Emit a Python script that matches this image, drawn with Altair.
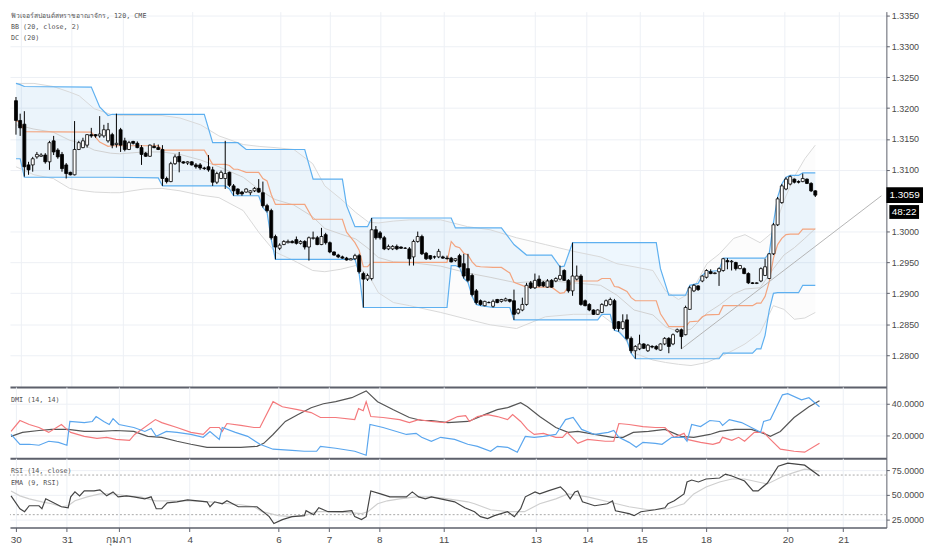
import json
import altair as alt
import pandas as pd

# ---------------- candles (2h bars) ----------------
opens = [
1.3212,1.3180,1.3174,1.3108,1.3108,1.3121,1.3122,1.3124,1.3113,1.3147,
1.3132,1.3125,1.3108,1.3096,1.3092,1.3133,1.3136,1.3140,1.3157,1.3157,
1.3155,1.3155,1.3147,1.3157,1.3141,1.3165,1.3147,1.3133,1.3146,1.3143,
1.3136,1.3127,1.3122,1.3138,1.3136,1.3133,1.3086,1.3081,1.3110,1.3122,
1.3113,1.3111,1.3113,1.3108,1.3108,1.3103,1.3105,1.3100,1.3080,1.3086,
1.3086,1.3096,1.3074,1.3069,1.3064,1.3064,1.3063,1.3066,1.3070,1.3063,
1.3042,1.3034,1.2992,1.2973,1.2979,1.2982,1.2984,1.2987,1.2981,1.2984,
1.2975,1.2989,1.2990,1.2979,1.2995,1.2982,1.2967,1.2962,1.2959,1.2957,
1.2954,1.2956,1.2961,1.2932,1.2923,1.2924,1.3003,1.2998,1.2990,1.2972,
1.2972,1.2976,1.2975,1.2973,1.2972,1.2959,1.2984,1.2992,1.2965,1.2961,
1.2959,1.2959,1.2959,1.2957,1.2957,1.2953,1.2961,1.2948,1.2940,1.2929,
1.2904,1.2888,1.2880,1.2885,1.2879,1.2890,1.2887,1.2888,1.2890,1.2888,
1.2868,1.2873,1.2882,1.2917,1.2909,1.2923,1.2918,1.2910,1.2921,1.2920,
1.2923,1.2937,1.2921,1.2904,1.2923,1.2928,1.2888,1.2882,1.2873,1.2866,
1.2869,1.2880,1.2882,1.2888,1.2854,1.2843,1.2857,1.2827,1.2807,1.2810,
1.2818,1.2807,1.2814,1.2814,1.2808,1.2818,1.2827,1.2818,1.2838,1.2841,
1.2833,1.2874,1.2904,1.2912,1.2920,1.2926,1.2935,1.2932,1.2935,1.2937,
1.2953,1.2951,1.2950,1.2940,1.2940,1.2932,1.2917,1.2916,1.2920,1.2929,
1.2924,1.2964,1.3011,1.3047,1.3069,1.3077,1.3085,1.3081,1.3081,1.3085,
1.3078,1.3066]
highs = [
1.3218,1.3191,1.3195,1.3113,1.3121,1.3129,1.3127,1.3127,1.3147,1.3155,
1.3135,1.3129,1.3111,1.3097,1.3179,1.3147,1.3152,1.3158,1.3168,1.3158,
1.3187,1.3173,1.3176,1.3160,1.3191,1.3168,1.3152,1.3147,1.3147,1.3146,
1.3140,1.3129,1.3141,1.3143,1.3141,1.3140,1.3089,1.3113,1.3125,1.3129,
1.3114,1.3114,1.3114,1.3111,1.3111,1.3105,1.3124,1.3105,1.3097,1.3099,
1.3147,1.3097,1.3077,1.3070,1.3066,1.3070,1.3067,1.3072,1.3085,1.3081,
1.3045,1.3037,1.2995,1.2981,1.2986,1.2987,1.2986,1.2992,1.2986,1.2986,
1.2992,1.3000,1.2993,1.3006,1.2998,1.2984,1.2968,1.2964,1.2961,1.2959,
1.2957,1.2964,1.2964,1.2935,1.2932,1.3022,1.3009,1.3001,1.2993,1.2979,
1.2978,1.2979,1.2976,1.2975,1.2975,1.2987,1.3000,1.2995,1.2967,1.2962,
1.2961,1.2972,1.2961,1.2961,1.2959,1.2957,1.2964,1.2964,1.2964,1.2932,
1.2907,1.2890,1.2888,1.2887,1.2890,1.2891,1.2891,1.2893,1.2891,1.2906,
1.2876,1.2893,1.2917,1.2920,1.2932,1.2929,1.2920,1.2923,1.2923,1.2926,
1.2945,1.2939,1.2923,1.2982,1.2945,1.2931,1.2890,1.2884,1.2874,1.2874,
1.2884,1.2890,1.2893,1.2891,1.2855,1.2866,1.2866,1.2830,1.2816,1.2833,
1.2819,1.2818,1.2816,1.2816,1.2819,1.2829,1.2829,1.2835,1.2843,1.2843,
1.2880,1.2912,1.2915,1.2913,1.2929,1.2939,1.2939,1.2934,1.2942,1.2957,
1.2957,1.2954,1.2951,1.2946,1.2942,1.2934,1.2918,1.2918,1.2942,1.2956,
1.2965,1.3014,1.3056,1.3077,1.3088,1.3091,1.3086,1.3083,1.3094,1.3086,
1.3080,1.3067]
lows = [
1.3157,1.3155,1.3089,1.3092,1.3097,1.3118,1.3121,1.3110,1.3100,1.3124,
1.3118,1.3097,1.3086,1.3091,1.3091,1.3132,1.3135,1.3136,1.3152,1.3152,
1.3152,1.3152,1.3144,1.3135,1.3136,1.3129,1.3130,1.3132,1.3141,1.3135,
1.3108,1.3121,1.3121,1.3135,1.3132,1.3074,1.3078,1.3080,1.3108,1.3096,
1.3110,1.3108,1.3107,1.3102,1.3100,1.3100,1.3097,1.3074,1.3077,1.3085,
1.3069,1.3072,1.3058,1.3059,1.3058,1.3063,1.3059,1.3064,1.3063,1.3039,
1.3031,1.2987,1.2955,1.2970,1.2978,1.2981,1.2981,1.2979,1.2979,1.2971,
1.2953,1.2987,1.2978,1.2978,1.2979,1.2965,1.2961,1.2957,1.2956,1.2953,
1.2954,1.2954,1.2932,1.2877,1.2920,1.2921,1.2987,1.2987,1.2970,1.2970,
1.2970,1.2970,1.2972,1.2972,1.2945,1.2945,1.2982,1.2962,1.2954,1.2954,
1.2956,1.2957,1.2956,1.2955,1.2950,1.2951,1.2942,1.2924,1.2918,1.2895,
1.2882,1.2880,1.2879,1.2884,1.2877,1.2884,1.2885,1.2887,1.2885,1.2857,
1.2866,1.2871,1.2880,1.2907,1.2907,1.2910,1.2910,1.2909,1.2909,1.2918,
1.2921,1.2920,1.2901,1.2896,1.2921,1.2880,1.2879,1.2871,1.2865,1.2865,
1.2868,1.2879,1.2880,1.2840,1.2838,1.2841,1.2824,1.2803,1.2794,1.2808,
1.2810,1.2805,1.2811,1.2808,1.2807,1.2816,1.2803,1.2816,1.2836,1.2810,
1.2832,1.2873,1.2902,1.2904,1.2918,1.2924,1.2931,1.2931,1.2912,1.2935,
1.2939,1.2937,1.2937,1.2939,1.2931,1.2915,1.2915,1.2915,1.2918,1.2928,
1.2923,1.2962,1.3009,1.3045,1.3067,1.3075,1.3078,1.3078,1.3080,1.3077,
1.3064,1.3056]
closes = [
1.3180,1.3168,1.3105,1.3100,1.3118,1.3125,1.3124,1.3113,1.3144,1.3129,
1.3121,1.3102,1.3094,1.3092,1.3133,1.3144,1.3147,1.3157,1.3155,1.3155,
1.3158,1.3165,1.3165,1.3140,1.3143,1.3140,1.3133,1.3144,1.3143,1.3136,
1.3125,1.3122,1.3140,1.3136,1.3133,1.3086,1.3081,1.3110,1.3121,1.3113,
1.3111,1.3113,1.3108,1.3105,1.3103,1.3102,1.3100,1.3080,1.3094,1.3096,
1.3094,1.3075,1.3066,1.3061,1.3061,1.3069,1.3066,1.3070,1.3064,1.3042,
1.3034,1.2990,1.2975,1.2978,1.2984,1.2984,1.2982,1.2981,1.2984,1.2975,
1.2990,1.2990,1.2979,1.2992,1.2982,1.2967,1.2962,1.2959,1.2957,1.2954,
1.2956,1.2961,1.2935,1.2923,1.2929,1.3003,1.2990,1.2990,1.2972,1.2976,
1.2976,1.2972,1.2973,1.2973,1.2956,1.2984,1.2992,1.2964,1.2956,1.2956,
1.2959,1.2968,1.2957,1.2956,1.2951,1.2956,1.2943,1.2928,1.2921,1.2898,
1.2885,1.2882,1.2887,1.2885,1.2887,1.2885,1.2890,1.2891,1.2887,1.2866,
1.2874,1.2882,1.2913,1.2909,1.2921,1.2912,1.2912,1.2920,1.2910,1.2924,
1.2929,1.2921,1.2904,1.2928,1.2928,1.2882,1.2880,1.2873,1.2866,1.2873,
1.2882,1.2888,1.2890,1.2843,1.2843,1.2854,1.2827,1.2807,1.2814,1.2818,
1.2811,1.2816,1.2813,1.2810,1.2818,1.2827,1.2814,1.2833,1.2841,1.2830,
1.2877,1.2909,1.2913,1.2906,1.2928,1.2937,1.2932,1.2933,1.2940,1.2956,
1.2951,1.2952,1.2940,1.2945,1.2932,1.2917,1.2916,1.2917,1.2940,1.2943,
1.2964,1.3011,1.3053,1.3074,1.3085,1.3089,1.3080,1.3080,1.3086,1.3078,
1.3066,1.3059]

# ---------------- Donchian channel (20) ----------------
dc_idx = [0,1,2,18,20,22,23,34,35,45,
          47,50,51,52,53,55,58,59,60,61,
          62,69,71,78,79,81,82,83,84,85,
          103,104,105,106,107,108,109,110,111,114,
          116,118,119,122,128,130,131,133,139,140,
          142,143,144,146,147,148,153,154,156,160,
          161,163,164,165,168,169,176,177,178,179,
          180,181,182,183,184,185,187,188,191]
dc_upper = [1.3240,1.3238,1.3235,1.3234,1.3202,1.3188,1.3190,1.3190,1.3190,1.3190,
            1.3144,1.3144,1.3144,1.3144,1.3144,1.3133,1.3133,1.3133,1.3133,1.3133,
            1.3133,1.3133,1.3085,1.3085,1.3042,1.3008,1.3008,1.3008,1.3008,1.3022,
            1.3022,1.3022,1.3006,1.3006,1.3006,1.3006,1.3006,1.3006,1.3006,1.3006,
            1.3006,1.2988,1.2979,1.2962,1.2962,1.2943,1.2944,1.2982,1.2982,1.2982,
            1.2982,1.2982,1.2982,1.2982,1.2982,1.2982,1.2982,1.2940,1.2897,1.2897,
            1.2913,1.2916,1.2929,1.2935,1.2937,1.2957,1.2957,1.2957,1.2957,1.2957,
            1.2965,1.3014,1.3056,1.3077,1.3088,1.3091,1.3091,1.3095,1.3095]
dc_mid = [1.3179,1.3178,1.3162,1.3161,1.3145,1.3138,1.3139,1.3139,1.3132,1.3132,
          1.3109,1.3109,1.3107,1.3101,1.3101,1.3096,1.3096,1.3086,1.3082,1.3060,
          1.3044,1.3044,1.3020,1.3020,1.2999,1.2982,1.2970,1.2943,1.2943,1.2950,
          1.2950,1.2984,1.2976,1.2974,1.2965,1.2962,1.2951,1.2944,1.2943,1.2942,
          1.2942,1.2933,1.2918,1.2910,1.2910,1.2900,1.2901,1.2920,1.2920,1.2924,
          1.2924,1.2911,1.2910,1.2903,1.2893,1.2888,1.2888,1.2867,1.2846,1.2846,
          1.2854,1.2855,1.2862,1.2865,1.2866,1.2880,1.2880,1.2884,1.2884,1.2895,
          1.2919,1.2957,1.2979,1.2989,1.2995,1.2996,1.2996,1.3004,1.3004]
dc_lower = [1.3118,1.3118,1.3088,1.3088,1.3088,1.3088,1.3088,1.3087,1.3074,1.3074,
            1.3074,1.3074,1.3069,1.3058,1.3058,1.3058,1.3058,1.3039,1.3031,1.2987,
            1.2955,1.2955,1.2955,1.2955,1.2955,1.2955,1.2932,1.2877,1.2877,1.2877,
            1.2877,1.2945,1.2945,1.2942,1.2924,1.2918,1.2895,1.2882,1.2880,1.2877,
            1.2877,1.2877,1.2857,1.2857,1.2857,1.2857,1.2857,1.2857,1.2857,1.2866,
            1.2866,1.2840,1.2838,1.2824,1.2803,1.2794,1.2794,1.2794,1.2794,1.2794,
            1.2794,1.2794,1.2794,1.2794,1.2794,1.2803,1.2803,1.2810,1.2810,1.2832,
            1.2873,1.2900,1.2901,1.2901,1.2901,1.2901,1.2901,1.2913,1.2913]

# ---------------- Bollinger bands (20, close, 2) ----------------
bb_idx = [0,4.3,8.9,12.8,15.1,18.7,22.6,24.8,30.6,34.9,
          39.2,44.1,48.5,54.3,58.1,61.9,66.4,70.9,73.8,77.6,
          81.2,84.3,86.6,90.2,94.1,101.5,107.9,113.3,119.6,126.5,
          133.2,139.7,143.6,147.7,152.2,155.2,158.3,161.3,165.1,168.1,
          171.5,174.2,177.8,181,183.5,186,188.5,191]
bb_upper = [1.3240,1.3240,1.3235,1.3226,1.3220,1.3199,1.3190,1.3188,1.3188,1.3188,
            1.3184,1.3173,1.3155,1.3141,1.3138,1.3136,1.3133,1.3110,1.3074,1.3053,
            1.3031,1.3015,1.3014,1.3017,1.3019,1.3019,1.3008,1.3003,1.2990,1.2979,
            1.2968,1.2959,1.2948,1.2943,1.2937,1.2904,1.2890,1.2901,1.2948,1.2964,
            1.2989,1.2995,1.2982,1.3000,1.3050,1.3089,1.3118,1.3140]
bb_basis = [1.3173,1.3166,1.3161,1.3148,1.3144,1.3132,1.3127,1.3126,1.3129,1.3129,
            1.3125,1.3116,1.3105,1.3088,1.3068,1.3052,1.3043,1.3024,1.3005,1.2996,
            1.2988,1.2972,1.2958,1.2951,1.2950,1.2944,1.2933,1.2926,1.2917,1.2921,
            1.2917,1.2913,1.2897,1.2873,1.2865,1.2846,1.2838,1.2842,1.2868,1.2881,
            1.2899,1.2907,1.2909,1.2940,1.2962,1.2974,1.2989,1.3005]
bb_lower = [1.3105,1.3092,1.3086,1.3070,1.3067,1.3064,1.3063,1.3063,1.3069,1.3070,
            1.3066,1.3059,1.3055,1.3034,1.2998,1.2967,1.2953,1.2937,1.2935,1.2939,
            1.2945,1.2929,1.2901,1.2885,1.2880,1.2869,1.2858,1.2849,1.2843,1.2862,
            1.2866,1.2866,1.2846,1.2803,1.2792,1.2788,1.2785,1.2783,1.2788,1.2797,
            1.2808,1.2818,1.2836,1.2880,1.2874,1.2858,1.2860,1.2869]

# trend line drawn on the price pane
trend_idx = [159.0, 206.8]
trend_val = [1.2810, 1.3058]

# ---------------- DMI (14, 14) ----------------
pdi_idx = [0,2.1,4.3,6.6,8.9,11.2,13.2,13.9,17.3,19.2,
           20.1,21.9,23.2,24.1,25.5,29.0,31.6,33.1,34.3,36.7,
           39.2,42.5,45.4,47.0,49.2,49.9,53.0,55.9,58.8,61.9,
           66.4,69.3,72.2,73.1,76.7,81.2,83.9,84.8,87.9,93.4,
           95.7,97.0,99.3,101.5,104.8,107.9,110.2,113.3,114.9,117.3,
           119.6,121.5,123.6,125.8,128.7,131.0,132.8,134.8,137.9,141.1,
           142.4,143.6,146.0,147.7,149.3,152.2,153.8,156.1,159.0,159.7,
           160.8,162.9,165.1,167.4,168.1,169.7,172.6,174.9,177.1,177.8,
           179.4,182.25,183.5,186.75,188.5,191.0]
pdi_val = [20.6,14.4,14.4,13.8,16.3,15.6,13.8,28.8,28.1,28.8,
           31.9,28.8,26.9,30.6,26.9,25.0,22.5,24.4,19.4,22.5,
           21.9,20.6,18.8,22.5,17.5,25.0,21.9,19.4,14.4,11.3,
           10.6,10.0,10.0,13.1,11.9,10.0,7.5,26.9,25.0,20.6,
           21.3,18.8,16.3,18.8,17.5,14.4,13.1,10.0,13.1,12.5,
           9.4,19.4,18.8,19.4,20.6,30.0,31.3,23.8,20.6,21.9,
           23.1,18.8,15.6,12.5,15.6,15.0,14.4,18.8,18.8,16.3,
           26.9,25.6,29.4,28.8,26.3,30.0,28.1,25.0,21.9,28.8,
           30.0,45.6,46.3,42.5,43.8,38.1]
mdi_idx = [0,2.1,4.3,6.6,8.9,11.9,13.2,14.1,17.3,20.3,
           22.6,24.8,28.0,29.2,34.1,35.6,39.2,42.5,45.4,47.0,
           49.2,49.9,51.0,54.3,57.4,58.8,61.9,64.1,67.7,70.9,
           73.1,76.7,81.2,82.1,83.2,83.9,85.0,87.9,91.8,94.1,
           96.3,99.3,102.5,105.5,107.4,108.3,110.2,112.6,114.9,117.3,
           118.5,120.4,122.0,123.6,125.8,128.7,130.3,131.4,133.9,136.2,
           140.4,142.4,143.6,146.0,149.3,152.2,154.5,156.7,159.0,159.7,
           162.9,165.8,167.4,168.1,170.3,171.9,173.3,175.6,177.8,179.4,
           181.75,185.0,187.5,191.0]
mdi_val = [22.5,29.4,26.9,25.0,21.9,26.9,23.8,21.9,19.4,18.1,
           18.8,17.5,16.9,20.6,30.0,28.1,25.0,21.9,20.6,25.0,
           25.0,22.5,27.5,26.3,25.0,25.0,41.3,38.1,36.3,34.4,
           31.3,31.3,30.0,36.9,35.6,41.3,31.9,31.3,30.0,28.1,
           30.0,28.8,28.1,31.9,32.5,28.8,31.9,33.1,31.9,30.0,
           33.1,28.8,23.8,20.6,21.3,18.8,18.8,21.9,15.0,17.5,
           16.3,16.3,27.5,26.9,25.6,25.0,25.0,18.8,21.3,17.5,
           15.6,14.4,15.6,18.8,16.9,18.8,16.3,21.9,21.9,17.5,
           11.3,10.0,9.4,15.0]
adx_idx = [0,2.7,6.6,9.6,13.5,17.3,21.0,24.8,29.0,32.3,
           35.6,39.2,42.5,46.3,49.9,54.3,58.1,59.7,61.9,64.8,
           67.7,70.9,73.8,76.7,80.5,83.9,86.6,90.2,94.1,97.0,
           99.3,103.2,107.9,108.6,111.9,114.9,117.3,120.4,122.0,124.9,
           128.7,131.6,133.9,137.9,142.1,144.6,147.0,150.6,154.5,158.3,
           161.3,165.1,167.4,171.0,174.9,177.8,179.4,181.75,185.0,188.5,
           191.0]
adx_val = [19.4,21.9,23.1,23.8,23.8,22.5,22.5,23.1,22.5,19.4,
           18.8,16.3,14.4,12.5,12.5,12.5,13.1,15.0,20.6,28.8,
           33.1,37.5,40.0,41.3,43.8,48.1,41.3,36.3,31.3,29.4,
           29.4,28.1,28.8,29.4,33.1,36.3,37.5,40.6,38.1,31.9,
           25.0,21.9,22.5,20.6,18.8,18.8,21.9,22.5,23.8,19.4,
           18.8,20.6,22.5,23.8,23.8,21.3,19.4,22.5,31.3,38.1,
           41.9]

# ---------------- RSI (14, close) and EMA (9, RSI) ----------------
rsi_idx = [0,2.1,3.2,4.3,6.6,7.3,8.2,9.6,11.9,13.5,
           14.1,15.1,16.2,17.3,19.6,21.0,22.6,24.1,25.3,27.3,
           29.0,31.6,33.1,34.3,35.6,36.9,39.2,41.7,44.1,46.3,
           47.0,48.1,49.9,51.0,53.7,55.9,58.1,61.0,62.1,64.1,
           66.4,69.3,69.7,71.5,72.7,74.9,78.3,80.5,81.2,82.8,
           83.9,85.0,87.3,89.5,93.4,94.8,96.3,97.9,99.3,101.5,
           104.8,107.2,109.5,110.9,112.6,114.2,117.3,118.9,120.4,121.5,
           123.8,124.9,126.9,129.8,131.0,132.1,133.2,133.9,135.0,137.9,
           140.9,142.1,142.8,146.0,147.2,148.8,152.2,154.5,155.2,156.7,
           159.0,159.7,160.8,162.4,164.2,167.4,168.8,170.3,173.3,175.3,
           176.5,178.7,181.25,183.5,187.5,191.0]
rsi_val = [49,36,33,39,39,36,46,43,38,37,
           48,53,49,54,54,55,49,53,48,49,
           48,46,48,36,36,42,43,45,44,43,
           38,43,41,44,38,38,38,28,21,25,
           28,29,34,30,37,33,33,34,28,25,
           28,54,51,48,48,53,48,46,48,46,
           43,37,33,28,26,29,33,28,36,48,
           53,51,54,58,53,46,53,54,43,39,
           41,44,34,31,29,33,35,37,41,44,
           51,63,65,63,66,67,71,69,64,54,
           54,62,79,82,80,69]
ema_idx = [0,2.1,4.3,7.3,9.6,11.9,13.5,15.1,18.0,21.0,
           24.1,27.3,30.6,34.1,37.4,42.5,47.0,51.4,54.3,57.4,
           59.3,63.2,66.4,69.3,72.2,75.3,79.8,82.8,84.3,86.6,
           88.9,91.8,95.7,99.3,103.2,107.9,109.5,113.3,117.3,121.3,
           124.9,128.7,131.6,136.2,141.1,146.0,150.6,155.2,159.0,161.3,
           164.2,167.4,170.3,173.3,176.5,178.7,182.5,186.0,187.5,191.0]
ema_val = [54,49,46,43,41,38,39,44,48,51,
           51,49,48,44,44,44,43,41,40,38,
           33,29,28,29,33,33,32,31,33,41,
           44,46,48,48,46,43,41,35,33,33,
           41,46,51,48,43,38,35,36,41,51,
           58,63,66,66,63,61,69,74,76,74]
rsi_levels = [70, 30]

# ---------------- axes text ----------------
day_ticks = [1.1, 13.2, 25.5, 42.2, 63.2, 75.1, 87.0, 102.2, 124.0, 136.2, 149.0, 164.2, 183.5, 196.6]
day_labels = ["30", "31", "กุมภา", "4", "6", "7", "8", "11", "13", "14", "15", "18", "20", "21"]
price_ticks = [1.28, 1.285, 1.29, 1.295, 1.30, 1.31, 1.315, 1.32, 1.325, 1.33, 1.335]
dmi_ticks = [20, 40]
rsi_ticks = [25, 50, 75]
last_price = 1.3059
last_price_text = "1.3059"
countdown_text = "48:22"
title_lines = ["ฟิวเจอร์สปอนด์สหราชอาณาจักร, 120, CME", "BB (20, close, 2)", "DC (20)"]
dmi_title = "DMI (14, 14)"
rsi_titles = ["RSI (14, close)", "EMA (9, RSI)"]

# ---------------- layout / style ----------------
W = 885
H_MAIN, H_DMI, H_RSI = 379, 72, 70
X_DOMAIN = [-0.25, 206.8]
P_DOMAIN = [1.27484, 1.33563]
DMI_DOMAIN = [5.6, 50.6]
RSI_DOMAIN = [17, 87]
GRID = "#edf0f5"
AXIS_LINE = "#5d606b"
LABEL_COLOR = "#4a4a4a"
FONT = "Liberation Sans"
MONO = "DejaVu Sans Mono"
DC_BLUE = "#5eb0f0"
DC_ORANGE = "#f3a47f"
BB_GRAY = "#d9d9d9"

label_expr = "%s[indexof(%s, datum.value)]" % (
    json.dumps(day_labels, ensure_ascii=False), json.dumps(day_ticks))


def x_enc(show_labels):
    axis = alt.Axis(values=day_ticks, grid=True, gridColor=GRID, gridWidth=1,
                    domain=True, domainColor=AXIS_LINE,
                    domainWidth=1.5 if show_labels else 2,
                    ticks=show_labels, tickColor=AXIS_LINE, tickSize=4,
                    labels=show_labels, labelExpr=label_expr, labelFont=FONT,
                    labelFontSize=10, labelColor=LABEL_COLOR, labelOverlap=False,
                    labelFlush=False, labelPadding=3, title=None)
    return alt.X("i:Q", scale=alt.Scale(domain=X_DOMAIN, nice=False, zero=False), axis=axis)


def y_enc(field, domain, values):
    axis = alt.Axis(orient="right", values=values, format=".4f", grid=True, gridColor=GRID,
                    domain=True, domainColor=AXIS_LINE, domainWidth=1, ticks=True,
                    tickSize=3, tickColor=AXIS_LINE, labelFont=FONT, labelFontSize=9,
                    labelColor=LABEL_COLOR, labelPadding=2, title=None)
    return alt.Y(field + ":Q", scale=alt.Scale(domain=domain, nice=False, zero=False), axis=axis)


def legend_text(text, ypix):
    return alt.Chart(pd.DataFrame({"t": [text]})).mark_text(
        align="left", baseline="middle", font=MONO, fontSize=6.8, color="#555555"
    ).encode(x=alt.value(1), y=alt.value(ypix), text="t:N")


# ---------------- price pane ----------------
cand = pd.DataFrame({"i": list(range(len(closes))), "open": opens, "high": highs,
                     "low": lows, "close": closes})
cand["dir"] = ["up" if c >= o else "down" for o, c in zip(opens, closes)]
dc = pd.DataFrame({"i": dc_idx, "u": dc_upper, "m": dc_mid, "l": dc_lower})
bb = pd.DataFrame({"i": bb_idx, "u": bb_upper, "m": bb_basis, "l": bb_lower})
trend = pd.DataFrame({"i": trend_idx, "v": trend_val})
lp = pd.DataFrame({"p": [last_price], "t": [last_price_text], "c": [countdown_text]})

XM = x_enc(False)


def YP(f):
    return y_enc(f, P_DOMAIN, price_ticks)


bb_fill = alt.Chart(bb).mark_area(color="#8c8c8c", opacity=0.025).encode(x=XM, y=YP("u"), y2="l:Q")
dc_fill = alt.Chart(dc).mark_area(color="#2196f3", opacity=0.08).encode(x=XM, y=YP("u"), y2="l:Q")
bb_u = alt.Chart(bb).mark_line(color=BB_GRAY, strokeWidth=1).encode(x=XM, y=YP("u"))
bb_l = alt.Chart(bb).mark_line(color=BB_GRAY, strokeWidth=1).encode(x=XM, y=YP("l"))
bb_m = alt.Chart(bb).mark_line(color="#d0d0d0", strokeWidth=1).encode(x=XM, y=YP("m"))
dc_u = alt.Chart(dc).mark_line(color=DC_BLUE, strokeWidth=1.2).encode(x=XM, y=YP("u"))
dc_l = alt.Chart(dc).mark_line(color=DC_BLUE, strokeWidth=1.2).encode(x=XM, y=YP("l"))
dc_m = alt.Chart(dc).mark_line(color=DC_ORANGE, strokeWidth=1.2).encode(x=XM, y=YP("m"))
trend_line = alt.Chart(trend).mark_line(color="#b4b4b4", strokeWidth=1).encode(x=XM, y=YP("v"))
wicks = alt.Chart(cand).mark_rule(color="#000000", strokeWidth=1).encode(x=XM, y=YP("low"), y2="high:Q")
bodies = alt.Chart(cand).mark_bar(width=3, stroke="#000000", strokeWidth=0.8).encode(
    x=XM, y=YP("open"), y2="close:Q",
    fill=alt.Fill("dir:N", scale=alt.Scale(domain=["up", "down"], range=["#ffffff", "#000000"]), legend=None))

box1 = alt.Chart(lp).mark_rect(color="#000000", yOffset=-8, y2Offset=8).encode(
    x=alt.value(W), x2=alt.value(W + 37), y=YP("p"), y2="p:Q")
txt1 = alt.Chart(lp).mark_text(color="#ffffff", font=FONT, fontSize=10, align="center",
                               baseline="middle").encode(x=alt.value(W + 18.5), y=YP("p"), text="t:N")
box2 = alt.Chart(lp).mark_rect(color="#000000", yOffset=10, y2Offset=24).encode(
    x=alt.value(W + 3), x2=alt.value(W + 33), y=YP("p"), y2="p:Q")
txt2 = alt.Chart(lp).mark_text(color="#ffffff", font=FONT, fontSize=10, align="center",
                               baseline="middle", dy=17).encode(x=alt.value(W + 18), y=YP("p"), text="c:N")

main = alt.layer(
    bb_fill, dc_fill, bb_u, bb_l, bb_m, dc_u, dc_l, dc_m, trend_line, wicks, bodies,
    legend_text(title_lines[0], 4), legend_text(title_lines[1], 16), legend_text(title_lines[2], 27),
    box1, txt1, box2, txt2,
).properties(width=W, height=H_MAIN)

# ---------------- DMI pane ----------------
XD = x_enc(False)
pdi = pd.DataFrame({"i": pdi_idx, "v": pdi_val})
mdi = pd.DataFrame({"i": mdi_idx, "v": mdi_val})
adx = pd.DataFrame({"i": adx_idx, "v": adx_val})
YD = y_enc("v", DMI_DOMAIN, dmi_ticks)
dmi = alt.layer(
    alt.Chart(adx).mark_line(color="#555555", strokeWidth=1.2).encode(x=XD, y=YD),
    alt.Chart(mdi).mark_line(color="#f4797c", strokeWidth=1.2).encode(x=XD, y=YD),
    alt.Chart(pdi).mark_line(color="#5aa6ee", strokeWidth=1.2).encode(x=XD, y=YD),
    legend_text(dmi_title, 13),
).properties(width=W, height=H_DMI)

# ---------------- RSI pane ----------------
XR = x_enc(True)
rsi = pd.DataFrame({"i": rsi_idx, "v": rsi_val})
ema = pd.DataFrame({"i": ema_idx, "v": ema_val})
lv = pd.DataFrame({"v": rsi_levels})
YR = y_enc("v", RSI_DOMAIN, rsi_ticks)
rsi_chart = alt.layer(
    alt.Chart(lv).mark_rule(color="#a8a8a8", strokeDash=[2, 2], strokeWidth=1).encode(y=YR),
    alt.Chart(ema).mark_line(color="#cfcfcf", strokeWidth=1.2).encode(x=XR, y=YR),
    alt.Chart(rsi).mark_line(color="#444444", strokeWidth=1.2).encode(x=XR, y=YR),
    legend_text(rsi_titles[0], 13), legend_text(rsi_titles[1], 25),
).properties(width=W, height=H_RSI)

chart = alt.vconcat(main, dmi, rsi_chart, spacing=0, bounds="flush").properties(
    padding=0, background="#ffffff"
).configure_view(stroke=None)

chart.save("out.html", embed_options={"renderer": "svg", "actions": False})
